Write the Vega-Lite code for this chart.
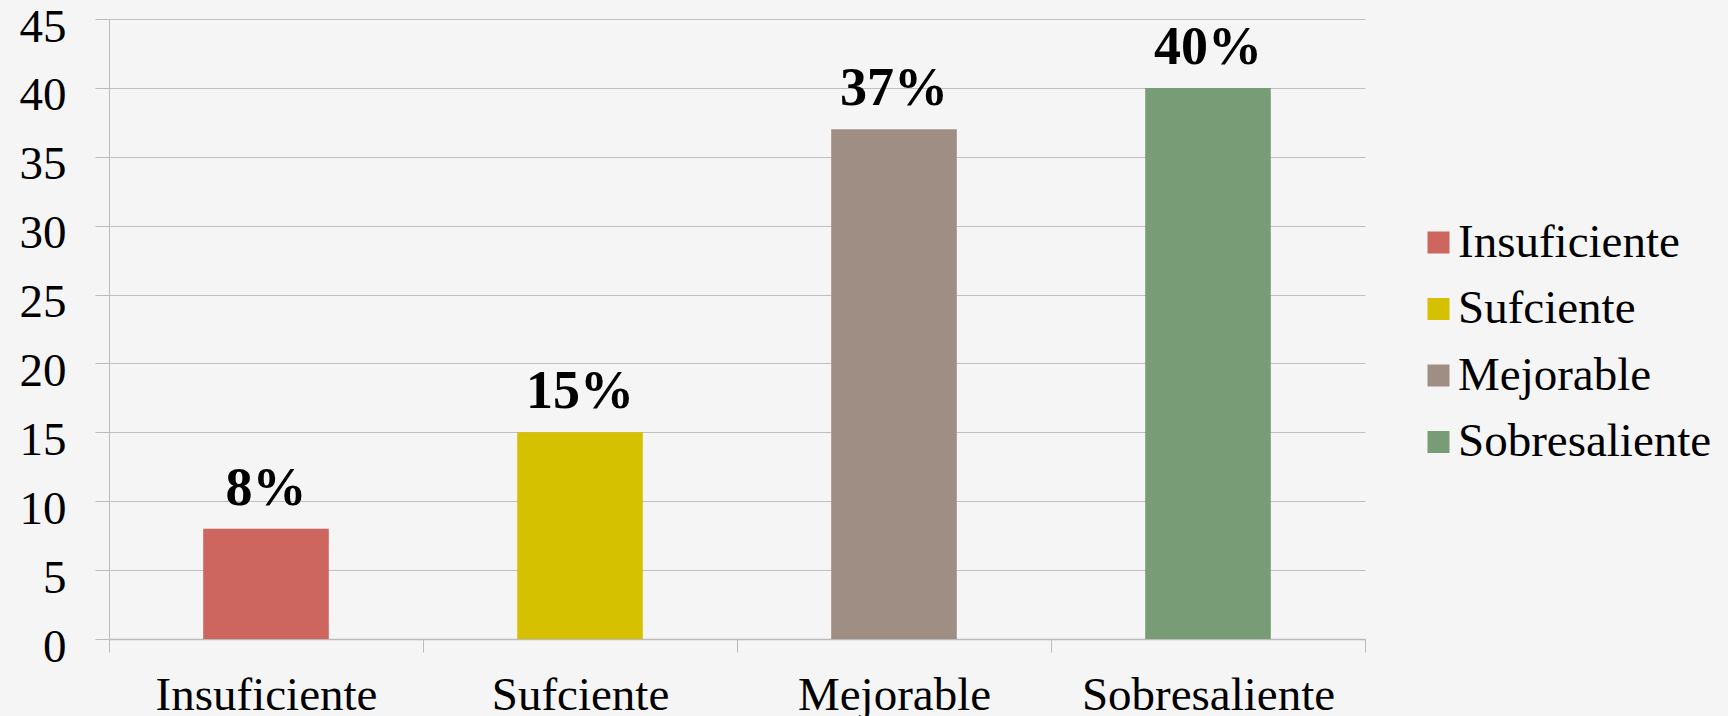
{
  "$schema": "https://vega.github.io/schema/vega-lite/v6.json",
  "width": 1256,
  "height": 620,
  "autosize": {"type": "none"},
  "padding": {"left": 109, "top": 19, "right": 363, "bottom": 77},
  "background": "#f5f5f5",
  "config": {"view": {"stroke": null}, "font": "Liberation Serif"},
  "data": {
    "values": [
      {"category": "Insuficiente", "value": 8, "label": "8%"},
      {"category": "Sufciente", "value": 15, "label": "15%"},
      {"category": "Mejorable", "value": 37, "label": "37%"},
      {"category": "Sobresaliente", "value": 40, "label": "40%"}
    ]
  },
  "encoding": {
    "x": {
      "field": "category",
      "type": "nominal",
      "sort": null,
      "scale": {"paddingInner": 0, "paddingOuter": 0},
      "axis": {
        "title": null,
        "labelAngle": 0,
        "labelFontSize": 47,
        "labelLimit": 0,
        "labelColor": "#000000",
        "labelBaseline": "alphabetic",
        "labelPadding": 57,
        "tickBand": "extent",
        "tickSize": 13,
        "tickColor": "#bbbbbb",
        "domainColor": "#bbbbbb",
        "domainWidth": 1.5,
        "grid": false
      }
    },
    "y": {
      "field": "value",
      "type": "quantitative",
      "scale": {"domain": [0, 45], "nice": false},
      "axis": {
        "title": null,
        "values": [0, 5, 10, 15, 20, 25, 30, 35, 40, 45],
        "labelFontSize": 47,
        "labelColor": "#000000",
        "labelPadding": 29,
        "labelOffset": 8,
        "tickSize": 14,
        "tickColor": "#bbbbbb",
        "domainColor": "#bbbbbb",
        "gridColor": "#bfbfbf",
        "grid": true
      }
    }
  },
  "layer": [
    {
      "mark": {"type": "bar", "width": {"band": 0.4}},
      "encoding": {
        "color": {
          "field": "category",
          "type": "nominal",
          "sort": null,
          "scale": {
            "domain": ["Insuficiente", "Sufciente", "Mejorable", "Sobresaliente"],
            "range": ["#cd665f", "#d6c100", "#9f8e83", "#789c75"]
          },
          "legend": {
            "title": null,
            "orient": "none",
            "legendX": 1306,
            "legendY": 200,
            "symbolType": "square",
            "symbolSize": 484,
            "symbolStrokeWidth": 0,
            "symbolOpacity": 1,
            "labelFontSize": 47,
            "labelLimit": 0,
            "labelColor": "#000000",
            "labelOffset": -4,
            "rowPadding": 18.5,
            "padding": 0
          }
        }
      }
    },
    {
      "mark": {
        "type": "text",
        "baseline": "alphabetic",
        "dy": -24,
        "fontSize": 54,
        "fontWeight": "bold",
        "color": "#000000"
      },
      "encoding": {"text": {"field": "label"}}
    }
  ]
}
